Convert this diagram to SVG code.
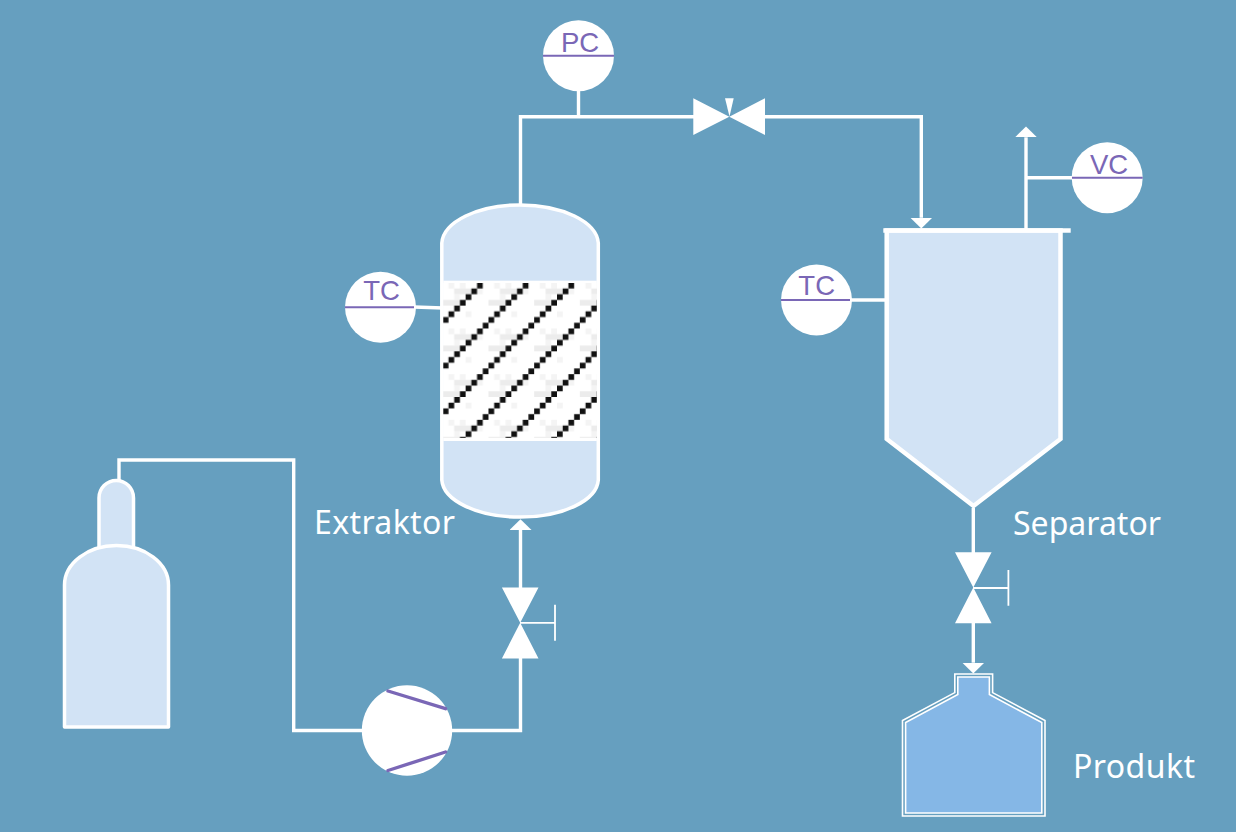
<svg xmlns="http://www.w3.org/2000/svg" width="1236" height="832" viewBox="0 0 1236 832">
<style>
.pipe{fill:none;stroke:#fff;stroke-width:3.4}
.thin{fill:none;stroke:#fff;stroke-width:1.8}
.vessel{fill:#d2e3f5;stroke:#fff;stroke-width:3.5;stroke-linejoin:round}
.solid{fill:#fff}
.purple{fill:none;stroke:#7a67b6;stroke-width:2}
.pumpline{fill:none;stroke:#7a67b6;stroke-width:3.4;stroke-linecap:round}
.inst{font-family:"Liberation Sans",Arial,sans-serif;font-size:27.5px;fill:#7a67b6;text-anchor:middle}
.label{font-family:"Noto Sans","Open Sans",sans-serif;font-size:32px;fill:#fff}
.blk{fill:#111}
</style>
<defs>
<marker id="head" markerUnits="userSpaceOnUse" markerWidth="11" markerHeight="22" viewBox="0 0 11 22" refX="0" refY="11" orient="auto"><path d="M0 0L10.7 11L0 22Z" fill="#fff"/></marker>
<g id="valveV"><path class="solid" d="M-18.3 -35.4H18.3L0 0L18.3 35.6H-18.3L0 0Z"/></g>
<pattern id="packing" patternUnits="userSpaceOnUse" x="442.8" y="282.8" width="45.68" height="45.68" viewBox="0 0 8 8">
<rect width="8" height="8" fill="#fff"/>
<g fill="#f4f4f4"><rect x="1" y="0" width="1" height="1"/><rect x="3" y="0" width="1" height="1"/><rect x="6" y="1" width="1" height="1"/><rect x="4" y="5" width="1" height="1"/><rect x="2" y="2" width="1" height="1"/></g>
<g fill="#ececec"><rect x="2" y="1" width="3" height="1"/><rect x="0" y="3" width="3" height="1"/></g>
<g class="blk"><rect x="6" y="0" width="1" height="1"/><rect x="5" y="1" width="1" height="1"/><rect x="4" y="2" width="1" height="1"/><rect x="3" y="3" width="1" height="1"/><rect x="2" y="4" width="1" height="1"/><rect x="1" y="5" width="1" height="1"/><rect x="0" y="6" width="1" height="1"/><rect x="7" y="7" width="1" height="1"/></g>
</pattern>
</defs>
<rect id="background" width="1236" height="832" fill="#669fbf"/>

<g id="connectors">
<path class="pipe" d="M119 481V460H293.7V730.5H364"/>
<path class="pipe" d="M450 730.5H520.5V640"/>
<path class="pipe" marker-end="url(#head)" d="M520.5 600V530"/>
<path class="pipe" d="M520.5 204V116.7H700"/>
<path class="pipe" d="M578.5 90V116.7"/>
<path class="pipe" marker-end="url(#head)" d="M760 116.7H921.3V217.7"/>
<path class="pipe" marker-end="url(#head)" d="M1026 229V137.3"/>
<path class="pipe" d="M1026 177.7H1075"/>
<path class="pipe" d="M850 300H886"/>
<path class="pipe" d="M414 307L443 308"/>
<path class="pipe" d="M973.3 508V560"/>
<path class="pipe" marker-end="url(#head)" d="M973.3 615V662.7"/>
</g>

<g id="cylinder">
<path class="vessel" d="M99 547V498A17.2 17.5 0 0 1 133.5 498V547"/>
<path class="vessel" d="M64.5 727V585A52 39.5 0 0 1 168.5 585V727Z"/>
</g>

<g id="pump">
<circle class="solid" cx="407" cy="730.5" r="45.2"/>
<path class="pumpline" d="M388 691L445.5 708.7M388 770.5L445.5 752"/>
</g>

<g id="extractor-valve">
<use href="#valveV" x="520.2" y="622.8"/>
<path class="thin" d="M520 622.8H555M555 604.7V640.7"/>
</g>

<g id="extractor">
<path class="vessel" d="M441.8 243A78.3 39.5 0 0 1 598.3 243V480A78.3 38.5 0 0 1 441.8 480Z"/>
<rect x="443.3" y="280.7" width="153.5" height="160.3" fill="#fff"/>
<rect x="443.3" y="283" width="153.7" height="155" fill="url(#packing)"/>
<text class="label" x="314" y="533.5" textLength="141">Extraktor</text>
</g>

<g id="tc-extractor">
<circle class="solid" cx="380.5" cy="307.2" r="35.5"/>
<path class="purple" d="M345 307.2H414"/>
<text class="inst" x="381.5" y="300">TC</text>
</g>

<g id="pc">
<circle class="solid" cx="578.5" cy="55.7" r="35.5"/>
<path class="purple" d="M543 55.7H614"/>
<text class="inst" x="580" y="52">PC</text>
</g>

<g id="top-valve">
<path class="solid" d="M693.3 98.3L729.3 116.7L765 98.3V135L729.3 116.7L693.3 135Z"/>
<path class="solid" d="M725 98.3H733.7L729.5 116.5Z"/>
</g>

<g id="separator">
<path fill="#d2e3f5" stroke="#fff" stroke-width="4.5" stroke-linejoin="miter" d="M886.7 230.5V439L973.5 506L1060.5 439V230.5Z"/>
<path class="pipe" style="stroke-width:4.4" d="M883.3 230.5H1070.7"/>
<text class="label" x="1013" y="534.5" textLength="148">Separator</text>
</g>

<g id="tc-separator">
<circle class="solid" cx="816.5" cy="300" r="35.5"/>
<path class="purple" d="M781 300H850"/>
<text class="inst" x="816.7" y="295">TC</text>
</g>

<g id="vc">
<circle class="solid" cx="1107.2" cy="177.7" r="35.5"/>
<path class="purple" d="M1072 177.7H1142.7"/>
<text class="inst" x="1109" y="174.3">VC</text>
</g>

<g id="separator-valve">
<use href="#valveV" x="973.3" y="587.6"/>
<path class="thin" d="M973 588H1008.4M1008.4 570V605.7"/>
</g>

<g id="product">
<path fill="none" stroke="#fff" stroke-width="1.6" d="M902.5 816V720.5L954.8 692.6V674H992.6V692.6L1045 720.5V816Z"/>
<path fill="#85b7e6" stroke="#fff" stroke-width="1.6" d="M905.6 813V722.6L957.8 694.5V677H989.4V694.5L1041.8 722.6V813Z"/>
<text class="label" x="1073" y="777.5" textLength="122">Produkt</text>
</g>
</svg>
